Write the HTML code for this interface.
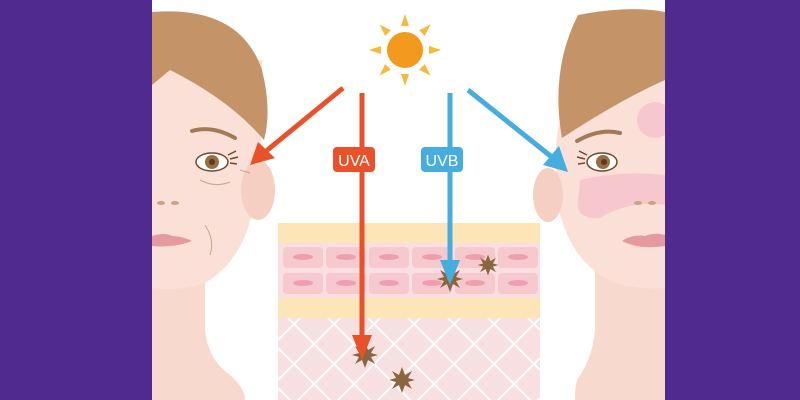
<!DOCTYPE html><html><head><style>html,body{margin:0;padding:0;background:#fff}svg{display:block}</style></head><body>
<svg width="800" height="400" viewBox="0 0 800 400" xmlns="http://www.w3.org/2000/svg">
<defs>
<clipPath id="derm"><rect x="278" y="318" width="262" height="82"/></clipPath>
<g id="star"><polygon points="0,-13 3,-5 10,-9 6,-2 13,0 6,2 10,9 3,5 0,13 -3,5 -10,9 -6,2 -13,0 -6,-2 -10,-9 -3,-5" fill="#8a6640"/></g>
</defs>
<rect width="800" height="400" fill="#fff"/>
<!-- left face -->
<path d="M152,255 L205,255 L205,330 Q208,360 230,375 Q245,388 245,400 L152,400Z" fill="#f8d9ce"/>
<path d="M152,60 L262,60 Q264,150 255,200 Q245,260 205,283 Q180,292 152,288Z" fill="#fae0d7"/>
<ellipse cx="258" cy="190" rx="17" ry="30" fill="#f6cfc3"/>
<path d="M152,12 Q240,5 262,70 Q272,110 264,140 Q230,100 170,70 L152,85Z" fill="#c49468"/>
<path d="M192,131 Q212,125 235,138" stroke="#a37a55" stroke-width="4" fill="none" stroke-linecap="round"/>
<ellipse cx="212" cy="162" rx="16" ry="9" fill="#fff" stroke="#6b4a30" stroke-width="1.5"/>
<circle cx="212" cy="162" r="7" fill="#9a6c43"/><circle cx="212" cy="162" r="3" fill="#5a3a20"/>
<path d="M228,155 l8,-4 M230,159 l8,-2 M230,163 l7,1" stroke="#6b4a30" stroke-width="1.5"/>
<path d="M200,180 Q215,188 230,182 M240,170 l10,3" stroke="#c9a590" stroke-width="1" fill="none"/>
<ellipse cx="161" cy="203" rx="4" ry="2" fill="#c9a480"/><ellipse cx="175" cy="203" rx="4" ry="2" fill="#c9a480"/>
<path d="M152,236 Q165,232 172,236 Q182,236 192,241 Q175,248 152,246Z" fill="#e59a9e"/>
<path d="M205,225 Q215,240 210,255" stroke="#c9a590" stroke-width="1" fill="none"/>
<!-- right face -->
<path d="M665,255 L595,255 L595,330 Q592,360 578,378 Q574,390 575,400 L665,400Z" fill="#f8d9ce"/>
<path d="M665,60 L600,60 Q556,100 556,150 Q556,210 562,220 Q575,265 615,283 Q640,290 665,288Z" fill="#fae0d7"/>
<ellipse cx="548" cy="195" rx="15" ry="27" fill="#f6cfc3"/>
<circle cx="655" cy="120" r="18" fill="#f6c8cd"/>
<path d="M580,180 Q620,170 665,175 L665,205 Q630,200 600,218 Q575,220 578,200Z" fill="#f6c8cd"/>
<path d="M578,15 Q630,5 665,12 L665,80 Q620,100 562,138 Q550,70 578,15Z" fill="#c49468"/>
<path d="M577,141 Q600,128 620,133" stroke="#a37a55" stroke-width="4" fill="none" stroke-linecap="round"/>
<ellipse cx="602" cy="162" rx="15" ry="9" fill="#fff" stroke="#6b4a30" stroke-width="1.5"/>
<circle cx="603" cy="162" r="7" fill="#9a6c43"/><circle cx="604" cy="162" r="3" fill="#5a3a20"/>
<path d="M587,155 l-8,-4 M585,159 l-8,-2 M585,163 l-7,1" stroke="#6b4a30" stroke-width="1.5"/>
<ellipse cx="638" cy="203" rx="4" ry="2" fill="#c9a480"/><ellipse cx="652" cy="203" rx="4" ry="2" fill="#c9a480"/>
<path d="M622,241 Q632,234 645,236 Q655,232 665,235 L665,246 Q640,250 622,241Z" fill="#e59a9e"/>
<!-- purple bars -->
<rect x="0" y="0" width="152" height="400" fill="#512a8f"/>
<rect x="665" y="0" width="135" height="400" fill="#512a8f"/>
<!-- sun -->
<g transform="translate(405,50)" fill="#f6b93b">
<g id="ray"><polygon points="-4,-24 4,-24 0,-36"/></g>
<use href="#ray" transform="rotate(45)"/><use href="#ray" transform="rotate(90)"/><use href="#ray" transform="rotate(135)"/><use href="#ray" transform="rotate(180)"/><use href="#ray" transform="rotate(225)"/><use href="#ray" transform="rotate(270)"/><use href="#ray" transform="rotate(315)"/>
<circle r="18" fill="#f39a1e"/>
</g>
<!-- skin -->
<rect x="278" y="223" width="262" height="20" fill="#fde5b8"/>
<rect x="278" y="243" width="262" height="55" fill="#f9dfe1"/>
<g fill="#f6c9cf">
<rect x="283" y="247" width="40" height="21" rx="4"/><rect x="326" y="247" width="40" height="21" rx="4"/><rect x="369" y="247" width="40" height="21" rx="4"/><rect x="412" y="247" width="40" height="21" rx="4"/><rect x="455" y="247" width="40" height="21" rx="4"/><rect x="498" y="247" width="40" height="21" rx="4"/>
<rect x="283" y="273" width="40" height="21" rx="4"/><rect x="326" y="273" width="40" height="21" rx="4"/><rect x="369" y="273" width="40" height="21" rx="4"/><rect x="412" y="273" width="40" height="21" rx="4"/><rect x="455" y="273" width="40" height="21" rx="4"/><rect x="498" y="273" width="40" height="21" rx="4"/>
</g>
<g fill="#ee9fad">
<ellipse cx="303" cy="257" rx="10" ry="3"/><ellipse cx="346" cy="257" rx="10" ry="3"/><ellipse cx="389" cy="257" rx="10" ry="3"/><ellipse cx="432" cy="257" rx="10" ry="3"/><ellipse cx="475" cy="257" rx="10" ry="3"/><ellipse cx="518" cy="257" rx="10" ry="3"/>
<ellipse cx="303" cy="283" rx="10" ry="3"/><ellipse cx="346" cy="283" rx="10" ry="3"/><ellipse cx="389" cy="283" rx="10" ry="3"/><ellipse cx="432" cy="283" rx="10" ry="3"/><ellipse cx="475" cy="283" rx="10" ry="3"/><ellipse cx="518" cy="283" rx="10" ry="3"/>
</g>
<rect x="278" y="298" width="262" height="20" fill="#fde5b8"/>
<rect x="278" y="318" width="262" height="82" fill="#f9e0e0"/>
<g clip-path="url(#derm)" stroke="#fff" stroke-width="2">
<path d="M248,318 l90,90 M288,318 l90,90 M328,318 l90,90 M368,318 l90,90 M408,318 l90,90 M448,318 l90,90 M488,318 l90,90 M208,318 l90,90 M528,318 l90,90"/>
<path d="M300,318 l-90,90 M340,318 l-90,90 M380,318 l-90,90 M420,318 l-90,90 M460,318 l-90,90 M500,318 l-90,90 M540,318 l-90,90 M580,318 l-90,90 M620,318 l-90,90"/>
</g>
<!-- stars -->
<use href="#star" x="365" y="355"/><use href="#star" x="402" y="380"/><use href="#star" x="450" y="279"/><use href="#star" transform="translate(488,265) scale(0.8)"/>
<!-- arrows -->
<line x1="343" y1="88" x2="265" y2="152" stroke="#e8512a" stroke-width="5"/>
<polygon points="250,165 258,142 275,158" fill="#e8512a"/>
<line x1="362" y1="93" x2="362" y2="340" stroke="#e8512a" stroke-width="5"/>
<polygon points="352,335 372,335 362,360" fill="#e8512a"/>
<rect x="333" y="147" width="42" height="25" rx="4" fill="#e8512a"/>
<text x="354" y="166" fill="#fff" font-family="Liberation Sans, sans-serif" font-size="16" text-anchor="middle">UVA</text>
<line x1="450" y1="93" x2="450" y2="265" stroke="#45aede" stroke-width="5"/>
<polygon points="440,260 460,260 450,285" fill="#45aede"/>
<rect x="421" y="147" width="42" height="25" rx="4" fill="#45aede"/>
<text x="442" y="166" fill="#fff" font-family="Liberation Sans, sans-serif" font-size="16" text-anchor="middle">UVB</text>
<line x1="468" y1="90" x2="553" y2="158" stroke="#45aede" stroke-width="5"/>
<polygon points="568,172 543,165 559,146" fill="#45aede"/>
</svg>
</body></html>
